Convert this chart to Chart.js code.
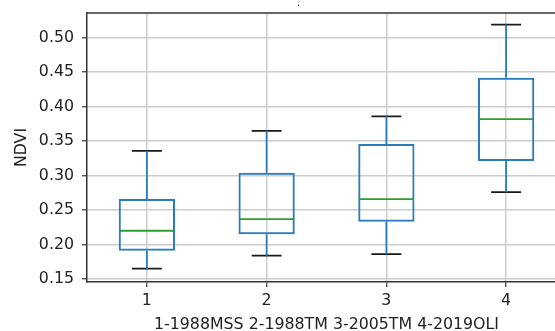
<!DOCTYPE html>
<html>
<head>
<meta charset="utf-8">
<script src="https://cdn.jsdelivr.net/npm/chart.js@4"></script>
<style>
  html, body { margin:0; padding:0; background:#fff; overflow:hidden; }
  #wrap { position:relative; width:555px; height:331px; overflow:hidden; }
  #dot { position:absolute; left:297px; top:-3px; font:10px "DejaVu Sans"; color:#000; }
</style>
</head>
<body>
<div id="wrap">
  <canvas id="chart" width="600" height="331"></canvas>
  <span id="dot">.</span>
</div>
<script>
/* data */
const groups      = [1, 2, 3, 4];
const q1          = [0.191, 0.215, 0.233, 0.321];
const medians     = [0.220, 0.237, 0.266, 0.382];
const q3          = [0.266, 0.304, 0.346, 0.442];
const whiskerLow  = [0.165, 0.184, 0.186, 0.276];
const whiskerHigh = [0.336, 0.365, 0.386, 0.519];
const yTicks      = [0.15, 0.20, 0.25, 0.30, 0.35, 0.40, 0.45, 0.50];
const xTitle      = '1-1988MSS 2-1988TM 3-2005TM 4-2019OLI';
const yTitle      = 'NDVI';

const BOX_HALF = 0.225; // half box width, in x units
const CAP_HALF = 0.125;
const LW = 1.8;
const FONT = { family:'DejaVu Sans', size:15.8 };

// line segments separated by null points
const medianPts = groups.flatMap((g, i) => [
  {x:g - BOX_HALF, y:medians[i]}, {x:g + BOX_HALF, y:medians[i]}, {x:g, y:null}]);
const whiskerPts = groups.flatMap((g, i) => [
  {x:g, y:q1[i]}, {x:g, y:whiskerLow[i]}, {x:g, y:null},
  {x:g, y:q3[i]}, {x:g, y:whiskerHigh[i]}, {x:g, y:null}]);
const capPts = groups.flatMap((g, i) => [
  {x:g - CAP_HALF, y:whiskerLow[i]}, {x:g + CAP_HALF, y:whiskerLow[i]}, {x:g, y:null},
  {x:g - CAP_HALF, y:whiskerHigh[i]}, {x:g + CAP_HALF, y:whiskerHigh[i]}, {x:g, y:null}]);

// top spine
const topSpine = {
  id:'topSpine',
  afterDraw(c) {
    const {ctx, chartArea:a} = c;
    ctx.save();
    ctx.strokeStyle = '#333';
    ctx.lineWidth = 1.5;
    ctx.beginPath();
    ctx.moveTo(a.left - 0.75, a.top);
    ctx.lineTo(c.width, a.top);
    ctx.stroke();
    ctx.restore();
  }
};

const lineDs = (data, color) => ({
  type:'line', data, borderColor:color, borderWidth:LW,
  pointRadius:0, tension:0, spanGaps:false, fill:false
});

new Chart(document.getElementById('chart').getContext('2d'), {
  type:'bar',
  data: {
    datasets: [
      {
        data: groups.map((g, i) => ({x:g, y:[q1[i], q3[i]]})),
        backgroundColor:'rgba(0,0,0,0)',
        borderColor:'#2a7dbd',
        borderWidth:2,
        borderSkipped:false,
        barPercentage:0.47,
        categoryPercentage:1
      },
      lineDs(whiskerPts, '#2a7dbd'),
      lineDs(capPts, '#1a1a1a'),
      lineDs(medianPts, '#2ca02c')
    ]
  },
  options: {
    responsive:false,
    animation:false,
    layout:{ padding:{ left:0, top:13, right:34, bottom:0 } },
    plugins:{ legend:{display:false}, tooltip:{enabled:false}, title:{display:false} },
    scales: {
      x: {
        type:'linear', min:0.5, max:4.5, offset:false,
        afterBuildTicks: s => { s.ticks = groups.map(v => ({value:v})); },
        afterFit: s => { s.height = 49; s.paddingLeft = 0; s.paddingRight = 0; },
        ticks:{ color:'#222', font:FONT, padding:4, maxRotation:0,
                callback: v => String(v) },
        grid:{ offset:false, color:'#cccccc', lineWidth:1.5, tickLength:5, tickColor:'#333', tickWidth:1.2 },
        border:{ display:true, color:'#333', width:1.5 },
        title:{ display:true, text:xTitle, color:'#222',
                font:{ ...FONT, lineHeight:0.8 }, padding:{top:0, bottom:0} }
      },
      y: {
        type:'linear', min:0.1457, max:0.5358,
        afterBuildTicks: s => { s.ticks = yTicks.map(v => ({value:v})); },
        afterFit: s => { s.width = 87; s.paddingTop = 0; s.paddingBottom = 0; },
        ticks:{ color:'#222', font:FONT, padding:8, callback: v => v.toFixed(2) },
        grid:{ color:'#cccccc', lineWidth:1.5, tickLength:5, tickColor:'#333', tickWidth:1.2 },
        border:{ display:true, color:'#333', width:1.5 },
        title:{ display:true, text:yTitle, color:'#222',
                font:{ ...FONT, lineHeight:1 }, padding:{top:13.5, bottom:0} }
      }
    }
  },
  plugins:[topSpine]
});
</script>
</body>
</html>
